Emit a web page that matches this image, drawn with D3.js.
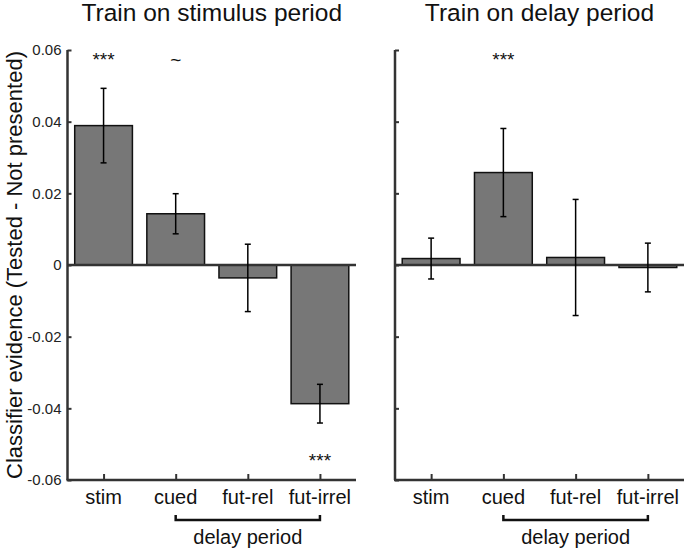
<!DOCTYPE html>
<html><head><meta charset="utf-8">
<script src="https://cdn.jsdelivr.net/npm/d3@7"></script>
<style>body{margin:0;background:#fff}svg{display:block;font-family:"Liberation Sans",Arial,sans-serif}</style>
</head><body>
<svg id="c" width="685" height="551"></svg>
<script>
const categories = ["stim","cued","fut-rel","fut-irrel"];
const stimMeans = [0.0389, 0.0143, -0.0036, -0.0387];
const stimErrs  = [0.0104, 0.0056, 0.0094, 0.0054];
const stimSig   = ["***","~","","***"];
const delayMeans = [0.0018, 0.0258, 0.0021, -0.0007];
const delayErrs  = [0.0057, 0.0123, 0.0162, 0.0068];
const delaySig   = ["","***","",""];
const yTicks = [-0.06,-0.04,-0.02,0,0.02,0.04,0.06];
const yTickLabels = ["-0.06","-0.04","-0.02","0","0.02","0.04","0.06"];
const titles = ["Train on stimulus period","Train on delay period"];
const yLabel = "Classifier evidence (Tested - Not presented)";
const bracketLabel = "delay period";

const svg = d3.select("#c");
const y = d3.scaleLinear().domain([-0.06,0.06]).range([480,50]);
const axisColor = "#333";

const panels = [
  {x0:67.5, x1:356, means:stimMeans, errs:stimErrs, sig:stimSig, title:titles[0], showLabels:true},
  {x0:395, x1:684, means:delayMeans, errs:delayErrs, sig:delaySig, title:titles[1], showLabels:false}
];

panels.forEach(p => {
  const x = d3.scaleLinear().domain([0.5,4.5]).range([p.x0,p.x1]);
  const bw = x(0.8)-x(0);
  const g = svg.append("g");
  const data = categories.map((c,i)=>({c,i:i+1,m:p.means[i],e:p.errs[i],s:p.sig[i]}));

  g.selectAll("rect.bar").data(data).join("rect")
    .attr("x",d=>x(d.i)-bw/2).attr("width",bw)
    .attr("y",d=>y(Math.max(0,d.m))).attr("height",d=>Math.abs(y(d.m)-y(0)))
    .attr("fill","#777").attr("stroke","#111").attr("stroke-width",1.5);

  g.append("line").attr("x1",p.x0).attr("x2",p.x1).attr("y1",y(0)).attr("y2",y(0))
    .attr("stroke",axisColor).attr("stroke-width",2.5);

  const eb = g.selectAll("g.eb").data(data).join("g").attr("stroke","#000").attr("stroke-width",1.5);
  eb.append("line").attr("x1",d=>x(d.i)).attr("x2",d=>x(d.i)).attr("y1",d=>y(d.m+d.e)).attr("y2",d=>y(d.m-d.e));
  eb.append("line").attr("x1",d=>x(d.i)-3).attr("x2",d=>x(d.i)+3).attr("y1",d=>y(d.m+d.e)).attr("y2",d=>y(d.m+d.e));
  eb.append("line").attr("x1",d=>x(d.i)-3).attr("x2",d=>x(d.i)+3).attr("y1",d=>y(d.m-d.e)).attr("y2",d=>y(d.m-d.e));

  const ya = d3.axisRight(y).tickValues(yTicks).tickSize(4).tickFormat("");
  const yg = g.append("g").attr("transform",`translate(${p.x0},0)`).call(ya);
  yg.select(".domain").attr("stroke",axisColor).attr("stroke-width",2.5).attr("d",`M0,${y(0.06)}V${y(-0.06)}`);
  yg.selectAll(".tick line").attr("stroke",axisColor).attr("stroke-width",2);
  if (p.showLabels) {
    g.selectAll("text.yt").data(yTicks).join("text")
      .attr("x",p.x0-6).attr("y",d=>y(d)).attr("dy","0.35em").attr("text-anchor","end")
      .attr("font-size",15).attr("fill","#222").text((d,i)=>yTickLabels[i]);
  }

  const xa = d3.axisTop(x).tickValues([1,2,3,4]).tickSize(6).tickFormat("");
  const xg = g.append("g").attr("transform",`translate(0,${y(-0.06)})`).call(xa);
  xg.select(".domain").attr("stroke",axisColor).attr("stroke-width",2.5).attr("d",`M${p.x0-1},0H${p.x1}`);
  xg.selectAll(".tick line").attr("stroke",axisColor).attr("stroke-width",2);
  g.selectAll("text.xl").data(data).join("text")
    .attr("x",d=>x(d.i)).attr("y",504).attr("text-anchor","middle")
    .attr("font-size",20).attr("fill","#111").text(d=>d.c);

  g.selectAll("text.sig").data(data.filter(d=>d.s)).join("text")
    .attr("x",d=>x(d.i)).attr("y",d=>d.m>=0?66:467).attr("text-anchor","middle")
    .attr("font-size",19).attr("fill","#111").text(d=>d.s);

  const bx1 = x(2), bx2 = x(4), by = 520;
  g.append("path").attr("d",`M${bx1},${by-5}V${by}H${bx2}V${by-5}`)
    .attr("fill","none").attr("stroke","#111").attr("stroke-width",2.5);
  g.append("text").attr("x",(bx1+bx2)/2).attr("y",544).attr("text-anchor","middle")
    .attr("font-size",20).attr("fill","#111").text(bracketLabel);

  g.append("text").attr("x",(p.x0+p.x1)/2).attr("y",21).attr("text-anchor","middle")
    .attr("font-size",24.5).attr("fill","#111").text(p.title);
});

svg.append("text").attr("transform",`translate(22,${y(0)}) rotate(-90)`)
  .attr("text-anchor","middle").attr("font-size",22).attr("fill","#111").text(yLabel);
</script>
</body></html>
